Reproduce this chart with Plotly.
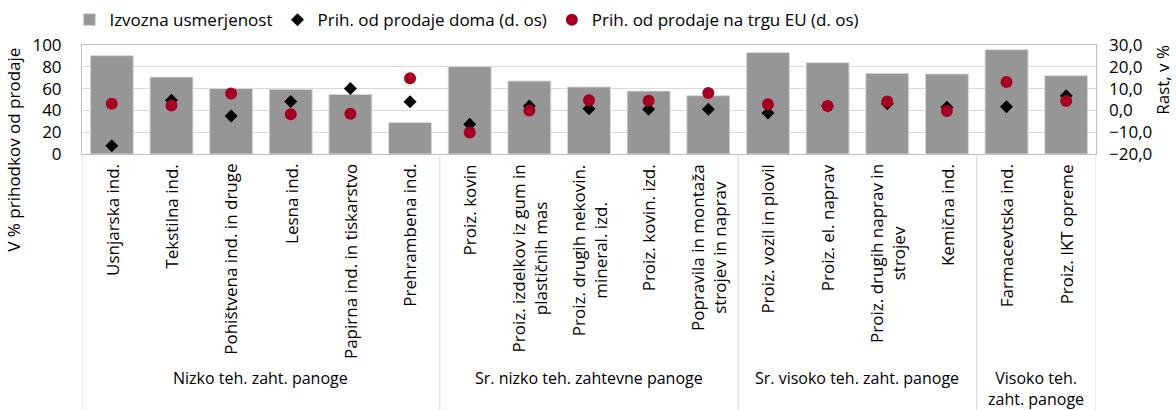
import plotly.graph_objects as go

categories = [
    "Usnjarska ind.", "Tekstilna ind.", "Pohištvena ind. in druge", "Lesna ind.",
    "Papirna ind. in tiskarstvo", "Prehrambena ind.",
    "Proiz. kovin", "Proiz. izdelkov iz gum in<br>plastičnih mas",
    "Proiz. drugih nekovin.<br>mineral. izd.", "Proiz. kovin. izd.",
    "Popravila in montaža<br>strojev in naprav",
    "Proiz. vozil in plovil", "Proiz. el. naprav", "Proiz. drugih naprav in<br>strojev",
    "Kemična ind.",
    "Farmacevtska ind.", "Proiz. IKT opreme",
]
izvozna = [90.2, 70.6, 60.2, 59.3, 54.7, 29.0, 80.1, 67.0, 61.5, 57.8, 53.5,
           93.0, 83.8, 74.0, 73.4, 95.7, 71.9]
doma = [-16.2, 4.7, -2.6, 4.1, 10.1, 4.0, -6.3, 2.0, 0.8, 0.5, 0.5,
        -1.2, 2.0, 3.0, 1.4, 1.7, 6.7]
eu = [3.1, 2.3, 7.8, -1.8, -1.5, 14.8, -10.1, 0.0, 4.7, 4.4, 8.0,
      2.8, 2.0, 4.1, -0.3, 13.0, 4.3]
groups = ["Nizko teh. zaht. panoge", "Sr. nizko teh. zahtevne panoge",
          "Sr. visoko teh. zaht. panoge", "Visoko teh.<br>zaht. panoge"]
group_sizes = [6, 5, 4, 2]

FONT = "Open Sans"
FS = 17
xs = list(range(len(categories)))

fig = go.Figure()
fig.add_trace(go.Bar(
    x=xs, y=izvozna, name="Izvozna usmerjenost",
    marker=dict(color="#969696", line=dict(color="#d9d9d9", width=1)),
    yaxis="y",
))
fig.add_trace(go.Scatter(
    x=xs, y=doma, name="Prih. od prodaje doma (d. os)", mode="markers",
    marker=dict(symbol="diamond", color="black", size=10),
    yaxis="y2",
))
fig.add_trace(go.Scatter(
    x=xs, y=eu, name="Prih. od prodaje na trgu EU (d. os)", mode="markers",
    marker=dict(symbol="circle", color="#a50021", size=12),
    yaxis="y2",
))

annotations = []
for i, c in enumerate(categories):
    annotations.append(dict(
        x=i, y=-0.075, xref="x", yref="paper", text=c, showarrow=False,
        textangle=-90, xanchor="center", yanchor="top", align="center",
        font=dict(family=FONT, size=FS, color="black"),
    ))

shapes = []
start = 0
bounds = [-0.5]
for g, n in zip(groups, group_sizes):
    center = start + (n - 1) / 2
    annotations.append(dict(
        x=center, y=-1.94, xref="x", yref="paper", text=g, showarrow=False,
        xanchor="center", yanchor="top", align="center",
        font=dict(family=FONT, size=16, color="black"),
    ))
    start += n
    bounds.append(start - 0.5)
for b in bounds:
    shapes.append(dict(type="line", xref="x", yref="paper", x0=b, x1=b,
                       y0=0, y1=-2.4, line=dict(color="#d9d9d9", width=1)))

annotations.append(dict(
    x=-0.067, y=0.04, xref="paper", yref="paper", text="V % prihodkov od prodaje",
    showarrow=False, textangle=-90, xanchor="center", yanchor="middle",
    font=dict(family=FONT, size=FS, color="black"),
))
annotations.append(dict(
    x=1.066, y=0.68, xref="paper", yref="paper", text="Rast, v %",
    showarrow=False, textangle=-90, xanchor="center", yanchor="middle",
    font=dict(family=FONT, size=FS, color="black"),
))

fig.update_layout(
    width=1176, height=410,
    margin=dict(l=82, r=80, t=45, b=256, autoexpand=False),
    paper_bgcolor="white", plot_bgcolor="white",
    separators=",.",
    bargap=0.28,
    font=dict(family=FONT, size=FS, color="black"),
    showlegend=True,
    legend=dict(orientation="h", xref="container", yref="container",
                x=0.059, y=0.951, xanchor="left", yanchor="middle",
                font=dict(family=FONT, size=FS, color="black"),
                itemwidth=30, tracegroupgap=0, bgcolor="rgba(0,0,0,0)"),
    xaxis=dict(range=[-0.5, len(categories) - 0.5], showticklabels=False,
               showgrid=False, showline=True, linecolor="#bfbfbf", linewidth=1,
               mirror=True, zeroline=False, ticks="", automargin=False),
    yaxis=dict(range=[0, 100], dtick=20, showgrid=True, gridcolor="#d9d9d9",
               gridwidth=1, showline=True, linecolor="#bfbfbf", mirror=True,
               zeroline=False, ticks="", tickfont=dict(size=FS), ticklabelstandoff=16,
               automargin=False),
    yaxis2=dict(range=[-20, 30], dtick=10, overlaying="y", side="right",
                showgrid=False, zeroline=False, tickformat=".1f", ticks="",
                tickfont=dict(size=FS), showline=False, automargin=False,
                ticklabelstandoff=12),
    annotations=annotations,
    shapes=shapes,
)

fig.write_html("out.html", config={"displayModeBar": False},
               post_script="document.body.style.margin='0';document.body.style.overflow='hidden';")
